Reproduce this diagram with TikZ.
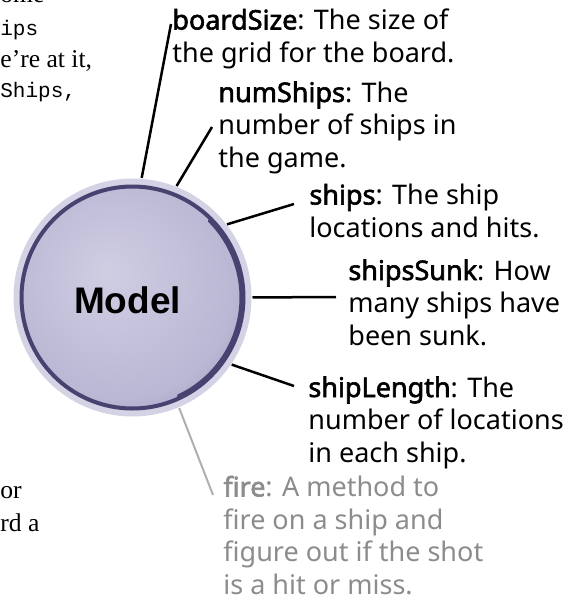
\documentclass[tikz,border=0pt]{standalone}
\usepackage{fontspec}
\setmainfont{Noto Sans}[BoldFont={Noto Sans},BoldFeatures={FakeBold=2.2}]
\newfontfamily\pagefont{Liberation Serif}
\newfontfamily\codefont{Liberation Mono}
\newfontfamily\modelfont{Liberation Sans}
\usepackage{xcolor}
\definecolor{cLight}{RGB}{208,206,227}
\definecolor{cMid}{RGB}{186,183,212}
\definecolor{cDeep}{RGB}{140,135,180}
\definecolor{cRim}{RGB}{72,66,112}
\definecolor{cHalo}{RGB}{212,210,229}
\definecolor{cFire}{RGB}{140,140,140}
\definecolor{cFireLine}{RGB}{175,175,175}
\pgfdeclareradialshading{bubble}{\pgfpoint{-6bp}{6bp}}{%
  color(0bp)=(cLight); color(26bp)=(cMid); color(40bp)=(cDeep); color(50bp)=(cDeep)}
\tikzset{
  notenode/.style={anchor=base west,align=left,inner sep=0pt,
                   font=\fontsize{13.5pt}{16.25pt}\selectfont},
  firenode/.style={notenode,text=cFire},
  pagetext/.style={anchor=base west,inner sep=0pt,
                   font=\pagefont\fontsize{12.8pt}{15pt}\selectfont},
  pagecode/.style={anchor=base west,inner sep=0pt,
                   font=\codefont\fontsize{10.5pt}{12pt}\selectfont},
  modelnode/.style={circle,inner sep=0pt,minimum size=111pt,shade,shading=bubble,
                    draw=cRim,line width=2pt,preaction={draw=cHalo,line width=8pt}},
  modeltext/.style={font=\modelfont\bfseries\fontsize{18.5pt}{20pt}\selectfont,inner sep=0pt},
  rimarc/.style={cRim,line width=1.6pt,line cap=round},
  conn/.style={black,line width=1.25pt,shorten <=3.5pt},
  fireconn/.style={cFireLine,line width=1pt,shorten <=3.5pt}
}
\begin{document}
\begin{tikzpicture}[x=0.5pt,y=-0.5pt]
  \useasboundingbox (0,0) rectangle (565,601);

  % Page text cut off at the left
  \node[pagetext] (pageA) at (0,2)   {ome};
  \node[pagecode] (pageB) at (0,35)  {ips};
  \node[pagetext] (pageC) at (0,67)  {e’re at it,};
  \node[pagecode] (pageD) at (0,97)  {Ships,};
  \node[pagetext] (pageE) at (0,498) {or};
  \node[pagetext] (pageF) at (0,531) {rd a};

  % Model bubble
  \node[modelnode] (model) at (132.5,297.5) {};
  \draw[rimarc] (model.center) ++(-65:54.3pt) arc[start angle=-65,end angle=45,radius=54.3pt];
  \node[modeltext] (modellabel) at (127.5,300) {Model};

  % Attribute notes (placed at the base line of their last line)
  \node[notenode] (boardsize) at (172,62)
    {\textbf{boardSize}: The size of\\the grid for the board.};
  \node[notenode] (numships) at (218,167)
    {\textbf{numShips}: The\\number of ships in\\the game.};
  \node[notenode] (ships) at (309,237)
    {\textbf{ships}: The ship\\locations and hits.};
  \node[notenode] (shipssunk) at (348,345)
    {\textbf{shipsSunk}: How\\many ships have\\been sunk.};
  \node[notenode] (shiplength) at (308,462)
    {\textbf{shipLength}: The\\number of locations\\in each ship.};
  \node[firenode] (fire) at (223,594)
    {\textbf{fire}: A method to\\fire on a ship and\\figure out if the shot\\is a hit or miss.};

  % Connectors
  \coordinate (boardsize-tip)  at (171,24);
  \coordinate (numships-tip)   at (212,127);
  \coordinate (ships-tip)      at (294,204);
  \coordinate (shipssunk-tip)  at (336,297);
  \coordinate (shiplength-tip) at (294,386);
  \coordinate (fire-tip)       at (213,495);
  \draw[conn] (model.86) -- (boardsize-tip);
  \draw[conn] (model.69) -- (numships-tip);
  \draw[conn] (model.39) -- (ships-tip);
  \draw[conn] (model.0) -- (shipssunk-tip);
  \draw[conn] (model.-35) -- (shiplength-tip);
  \draw[fireconn] (model.-67) -- (fire-tip);
\end{tikzpicture}
\end{document}
